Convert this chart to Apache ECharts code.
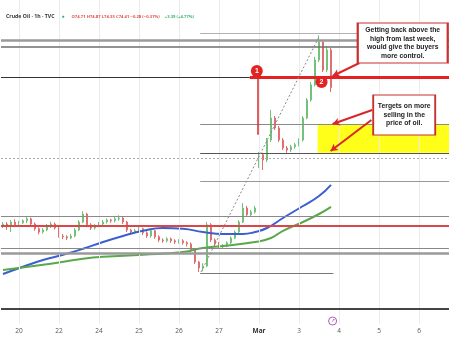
<!DOCTYPE html>
<html><head><meta charset="utf-8">
<script src="https://cdn.jsdelivr.net/npm/echarts@6/dist/echarts.min.js"></script>
<style>html,body{margin:0;padding:0;background:#fff}#c{width:450px;height:338px}</style>
</head><body><div id="c"></div>
<script>
// ---- data ----
const dayLabels = ['20','22','24','25','26','27','Mar','3','4','5','6'];
const barsPerDay = 10;
const firstLabelBar = 4;
const totalBars = 112;
// candles: [open, close, low, high]
const ohlc = [
[70.95,71.00,70.90,71.05],[71.00,70.95,70.85,71.05],[70.95,71.05,70.80,71.10],[71.05,70.98,70.92,71.12],
[70.98,71.03,70.94,71.08],[71.03,71.08,71.00,71.12],[71.08,71.13,71.02,71.18],[71.13,71.00,70.95,71.16],
[71.00,70.88,70.83,71.04],[70.88,70.80,70.74,70.92],[70.80,70.85,70.76,70.90],[70.85,70.95,70.82,71.00],
[70.95,71.00,70.90,71.06],[71.00,70.90,70.86,71.04],[70.90,70.70,70.66,70.93],[70.70,70.68,70.62,70.75],
[70.68,70.65,70.60,70.72],[70.65,70.70,70.62,70.75],[70.70,70.85,70.67,70.90],[70.85,71.05,70.82,71.10],
[71.05,71.25,71.02,71.32],[71.25,70.98,70.92,71.28],[70.98,70.90,70.85,71.02],[70.90,70.95,70.86,71.00],
[70.95,71.00,70.92,71.05],[71.00,71.05,70.96,71.10],[71.05,71.10,71.01,71.14],[71.10,71.08,71.03,71.13],
[71.08,71.13,71.04,71.18],[71.13,71.15,71.08,71.22],[71.15,71.05,71.00,71.18],[71.05,70.85,70.80,71.08],
[70.85,70.80,70.74,70.88],[70.80,70.83,70.76,70.88],[70.83,70.88,70.79,70.92],[70.88,70.78,70.72,70.91],
[70.78,70.70,70.65,70.82],[70.70,70.83,70.66,70.88],[70.83,70.68,70.63,70.86],[70.68,70.60,70.55,70.72],
[70.60,70.58,70.53,70.64],[70.58,70.63,70.54,70.67],[70.63,70.58,70.53,70.66],[70.58,70.55,70.50,70.62],
[70.55,70.58,70.51,70.62],[70.58,70.53,70.48,70.62],[70.53,70.50,70.44,70.57],[70.50,70.35,70.30,70.54],
[70.35,70.05,70.00,70.38],[70.05,69.90,69.80,70.08],[69.90,69.95,69.82,70.02],[69.95,70.98,69.92,71.05],
[70.98,70.60,70.55,71.02],[70.60,70.50,70.44,70.64],[70.50,70.43,70.38,70.55],[70.43,70.45,70.40,70.50],
[70.45,70.53,70.42,70.57],[70.53,70.65,70.50,70.69],[70.65,70.80,70.62,70.84],[70.80,71.05,70.77,71.10],
[71.05,71.40,71.02,71.52],[71.40,71.23,71.18,71.45],[71.23,71.30,71.19,71.35],[71.30,71.40,71.26,71.45],
[72.55,72.73,72.40,72.80],[72.73,72.60,72.35,72.78],[72.60,73.10,72.55,73.15],[73.10,73.65,73.05,73.85],
[73.65,73.40,73.35,73.70],[73.40,73.10,73.05,73.45],[73.10,72.90,72.85,73.15],[72.90,72.85,72.78,72.95],
[72.85,72.93,72.80,72.98],[72.93,72.98,72.88,73.03],[72.98,73.10,72.94,73.14],[73.10,73.65,73.06,73.70],
[73.65,74.10,73.62,74.15],[74.10,74.48,74.06,74.55],[74.48,75.10,74.44,75.18],[75.10,75.55,75.05,75.72],
[75.55,74.85,74.80,75.60],[74.85,75.35,74.80,75.45],[75.35,74.41,74.30,75.40]
];
const maBlue = [[0,69.75],[5,69.93],[10,70.10],[15,70.23],[20,70.38],[25,70.55],[30,70.70],[35,70.83],[40,70.90],
  [45,70.88],[50,70.80],[55,70.75],[60,70.75],[63,70.80],[66,70.90],[70,71.15],[75,71.45],[79,71.70],[82,71.98]];
const maGreen = [[0,69.85],[10,69.98],[20,70.13],[25,70.18],[35,70.23],[45,70.30],[50,70.40],[55,70.45],
  [63,70.55],[67,70.65],[70,70.83],[75,71.05],[79,71.25],[82,71.43]];
const levelPrice = [75.78, 75.60, 75.43, 74.68, 74.68, 73.50, 72.78, 72.65, 72.08, 71.20, 70.95, 70.40, 70.28, 69.78, 68.88];
const header = {name:'Crude Oil · 1h · TVC', ohlc:'O74.71 H74.87 L74.35 C74.41 −0.28 (−0.37%)', chg:'+3.39 (+4.77%)'};
const note1 = ['Getting back above the','high from last week,','would give the buyers','more control.'];
const note2 = ['Tergets on more','selling in the','price of oil.'];
const swingLow = [49.5, 69.80], swingHigh = [79.1, 75.70];
const zoneTop = 73.50, zoneBottom = 72.78;

// ---- styles / layout ----
const X0 = -0.5, X1 = totalBars - 0.5;
const levelStyle = [
 [49.3, X1, '#b0b0b0', 1, 'solid'],
 [X0, X1, '#9a9a9a', 2.5, 'solid'],
 [X0, X1, '#6e6e6e', 1.5, 'solid'],
 [X0, 61.7, '#333', 1, 'solid'],
 [61.7, X1, '#e32222', 3, 'solid'],
 [49.3, X1, '#8a8a8a', 1, 'solid'],
 [49.3, X1, '#555', 1, 'solid'],
 [X0, X1, '#aaa', 1, [2,2]],
 [49.3, X1, '#999', 1, 'solid'],
 [X0, X1, '#8a8a8a', 1, 'solid'],
 [X0, X1, '#d84848', 2, 'solid'],
 [X0, X1, '#888', 1, 'solid'],
 [X0, X1, '#9a9a9a', 2.5, 'solid'],
 [49.3, 82.6, '#777', 1, 'solid'],
 [X0, X1, '#444', 2, 'solid']
];
const categories = [];
const dayIdx = [];
for (let i = 0; i < totalBars; i++) {
  const k = i - firstLabelBar;
  if (k >= 0 && k % barsPerDay === 0 && k / barsPerDay < dayLabels.length) {
    categories.push(dayLabels[k / barsPerDay]); dayIdx.push(i);
  } else categories.push('');
}
const levelLines = levelPrice.map((p, i) => {
  const s = levelStyle[i];
  return [{coord:[s[0], p], lineStyle:{color:s[2], width:s[3], type:s[4]}}, {coord:[s[1], p]}];
});
const gridLines = dayIdx.map(i => ({xAxis: i, lineStyle:{color:'#ebebeb', width:1, type:'solid'}}));
const RED = '#d9262b';

const chart = echarts.init(document.getElementById('c'), null, {renderer:'canvas'});
chart.setOption({
  animation: false,
  backgroundColor: '#fff',
  title: {
    left: 1, top: 3,
    text: '{a|' + header.name + '} {d|●} {r|' + header.ohlc + '} {g|' + header.chg + '}',
    textStyle: {rich: {
      a: {fontSize: 5.2, color: '#333', fontFamily: 'Open Sans'},
      d: {fontSize: 5, color: '#2bb673', padding:[0,2,0,2]},
      r: {fontSize: 4.2, color: '#e0504a', fontFamily: 'Open Sans'},
      g: {fontSize: 4.2, color: '#3cb371', fontFamily: 'Open Sans'}
    }}
  },
  grid: {left: 0, right: 0, top: 0, bottom: 14},
  xAxis: [
    {type:'category', data: categories, boundaryGap: true,
     axisLine:{show:false}, axisTick:{show:false}, splitLine:{show:false},
     axisLabel:{interval:0, fontSize:6.5, color:'#555', margin:4, fontFamily:'Open Sans',
       formatter: v => v === 'Mar' ? '{b|Mar}' : v, rich:{b:{fontWeight:'bold', fontSize:6.5, color:'#333'}}}},
    {type:'value', min: X0, max: X1, show:false}
  ],
  yAxis: {type:'value', min: 68.5, max: 76.6, show:false},
  series: [
    {type:'line', xAxisIndex:1, data:[], z:1, silent:true,
     markLine:{silent:true, symbol:['none','none'], label:{show:false}, data: gridLines.concat(levelLines)},
     markArea:{silent:true, itemStyle:{color:'#ffff1a'}, data:[[{coord:[78.65, zoneTop]},{coord:[X1, zoneBottom]}]]}
    },
    {type:'line', xAxisIndex:1, data:[], z:2, silent:true,
     markLine:{silent:true, symbol:['none','none'], label:{show:false},
       data:[[{coord:swingLow, lineStyle:{color:'#888', width:1, type:[2,2]}},{coord:swingHigh}],
             [{coord:[63.71, 74.68], lineStyle:{color:RED, width:1.5, type:'solid'}},{coord:[63.71, 73.23]}]]}
    },
    {type:'candlestick', data: ohlc, barWidth: 2, z:3,
     itemStyle:{color:'#73c27a', color0:'#e07070', borderColor:'#73c27a', borderColor0:'#e07070', borderWidth:1}},
    {type:'line', xAxisIndex:1, data: maBlue, smooth:true, symbol:'none', z:4,
     lineStyle:{color:'#3a5fd0', width:2}},
    {type:'line', xAxisIndex:1, data: maGreen, smooth:true, symbol:'none', z:4,
     lineStyle:{color:'#5aa84a', width:2}},
    {type:'line', xAxisIndex:1, data:[], z:6, silent:true,
     markLine:{silent:true, symbol:['none','arrow'], symbolSize:[6,7], label:{show:false},
       lineStyle:{color:RED, width:2, type:'solid'},
       data:[[{coord:[89.1, 75.025]},{coord:[82.4, 74.70]}],
             [{coord:[92.3, 73.85]},{coord:[82.4, 73.50]}],
             [{coord:[92.1, 73.60]},{coord:[81.9, 72.825]}]]},
     markPoint:{silent:true, data:[
       {coord:[63.46, 74.825], symbol:'circle', symbolSize:12, itemStyle:{color:'#e02424'},
        label:{show:true, formatter:'1', color:'#fff', fontSize:7, fontWeight:'bold'}},
       {coord:[79.64, 74.55], symbol:'circle', symbolSize:12, itemStyle:{color:'#e02424'},
        label:{show:true, formatter:'2', color:'#fff', fontSize:7, fontWeight:'bold'}},
       {coord:[99.93, 75.525], symbol:'rect', symbolSize:[90,40],
        itemStyle:{color:'#fff', borderColor:'#c83030', borderWidth:1.5},
        label:{show:true, position:'inside', formatter: note1.join('\n'), color:'#222', fontSize:6.8,
          fontWeight:'bold', lineHeight:8.5, fontFamily:'Liberation Sans', align:'center'}},
       {coord:[100.3, 73.725], symbol:'rect', symbolSize:[62,40],
        itemStyle:{color:'#fff', borderColor:'#c83030', borderWidth:1.5},
        label:{show:true, position:'inside', formatter: note2.join('\n'), color:'#222', fontSize:6.8,
          fontWeight:'bold', lineHeight:8.5, fontFamily:'Liberation Sans', align:'center'}},
       {coord:[82.4, 68.575], symbol:'circle', symbolSize:8,
        itemStyle:{color:'#fff', borderColor:'#b05ab8', borderWidth:1},
        label:{show:true, formatter:'↗', color:'#b05ab8', fontSize:5}}
     ]}
    }
  ]
});
</script></body></html>
